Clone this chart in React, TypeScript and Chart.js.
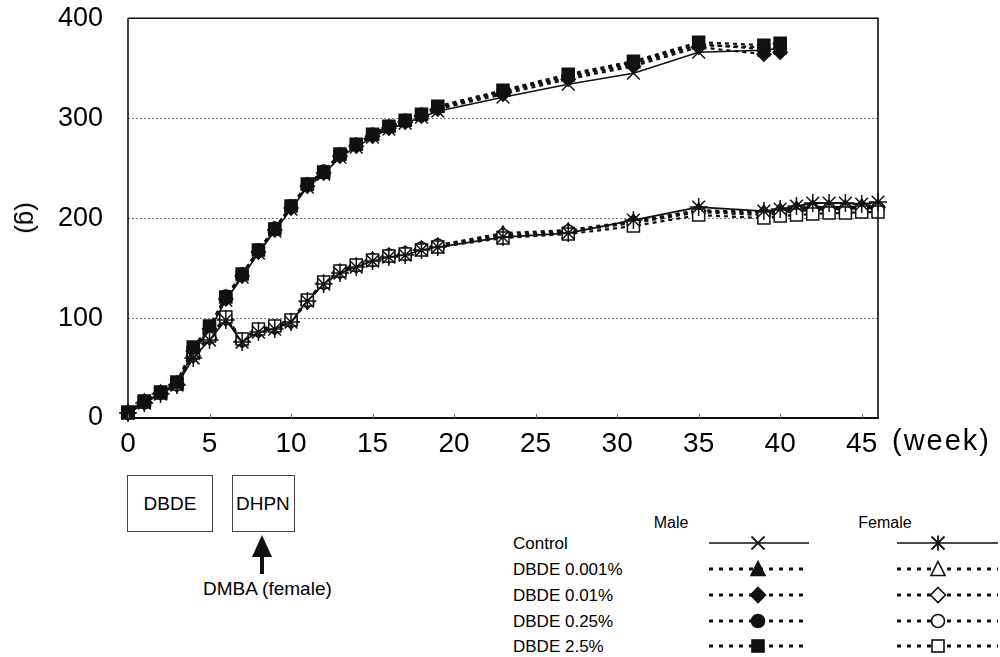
import React, { useEffect, useRef } from "react";
import { Chart, registerables } from "chart.js";

Chart.register(...registerables);

// ---------- data ----------
const maleWeeks = [0, 1, 2, 3, 4, 5, 6, 7, 8, 9, 10, 11, 12, 13, 14, 15, 16, 17, 18, 19, 23, 27, 31, 35, 39, 40];
const femaleWeeks = [0, 1, 2, 3, 4, 5, 6, 7, 8, 9, 10, 11, 12, 13, 14, 15, 16, 17, 18, 19, 23, 27, 31, 35, 39, 40, 41, 42, 43, 44, 45, 46];

const maleControl = [5, 16, 25, 34, 66, 88, 118, 141, 165, 187, 209, 231, 244, 261, 271, 281, 289, 295, 301, 307, 321, 334, 345, 366, 368, 370];
const male0001 = [6, 17, 26, 35, 69, 90, 121, 143, 167, 189, 211, 233, 246, 263, 273, 283, 291, 297, 303, 310, 326, 341, 354, 373, 371, 373];
const male001 = [5, 16, 25, 34, 67, 89, 119, 142, 166, 188, 210, 232, 245, 262, 272, 282, 290, 296, 302, 309, 324, 339, 352, 371, 364, 366];
const male025 = [6, 17, 26, 35, 70, 91, 122, 144, 168, 190, 212, 234, 247, 264, 274, 284, 292, 298, 304, 311, 327, 342, 356, 374, 369, 370];
const male25 = [6, 17, 26, 36, 71, 92, 121, 144, 168, 189, 212, 234, 246, 264, 274, 284, 292, 298, 304, 312, 328, 344, 357, 376, 373, 375];

const femaleControl = [5, 15, 24, 33, 60, 78, 98, 76, 86, 89, 96, 117, 134, 145, 151, 157, 161, 163, 168, 171, 181, 185, 198, 211, 207, 209, 212, 215, 215, 215, 214, 216];
const female0001 = [5, 16, 25, 34, 63, 81, 100, 78, 88, 91, 97, 117, 136, 147, 153, 159, 163, 165, 170, 173, 185, 188, 197, 208, 206, 208, 210, 211, 211, 211, 212, 212];
const female001 = [5, 15, 25, 33, 62, 80, 99, 77, 87, 90, 96, 116, 135, 146, 152, 158, 162, 164, 169, 172, 182, 186, 196, 207, 205, 207, 209, 210, 210, 210, 211, 211];
const female025 = [5, 16, 25, 34, 64, 82, 100, 78, 88, 91, 97, 117, 135, 147, 153, 158, 163, 165, 170, 173, 183, 187, 195, 206, 203, 205, 207, 208, 209, 209, 210, 210];
const female25 = [5, 16, 25, 34, 65, 82, 101, 79, 89, 92, 98, 118, 136, 147, 153, 158, 162, 164, 168, 171, 180, 184, 192, 203, 200, 202, 203, 204, 205, 205, 206, 206];

const groupLabels = ["Control", "DBDE 0.001%", "DBDE 0.01%", "DBDE 0.25%", "DBDE 2.5%"];
const xTickValues = [0, 5, 10, 15, 20, 25, 30, 35, 40, 45];
const yTickValues = [0, 100, 200, 300, 400];
const xMax = 46;
const yMax = 400;

// ---------- styles ----------
const maleStyles = [
  { shape: "crossRot", filled: false, dashed: false },
  { shape: "triangle", filled: true, dashed: true },
  { shape: "rectRot", filled: true, dashed: true },
  { shape: "circle", filled: true, dashed: true },
  { shape: "rect", filled: true, dashed: true },
];
const femaleStyles = [
  { shape: "star", filled: false, dashed: false },
  { shape: "triangle", filled: false, dashed: true },
  { shape: "rectRot", filled: false, dashed: true },
  { shape: "circle", filled: false, dashed: true },
  { shape: "rect", filled: false, dashed: true },
];
const shapeRadius: Record<string, number> = { crossRot: 9, star: 9, triangle: 7, rectRot: 7, circle: 6, rect: 8.5 };
// drawing order (lower is on top): control, 2.5%, 0.25%, 0.01%, 0.001%
const drawOrder = [0, 4, 3, 2, 1];

const maleSeries = [maleControl, male0001, male001, male025, male25];
const femaleSeries = [femaleControl, female0001, female001, female025, female25];

function makeDataset(label: string, weeks: number[], vals: number[], st: any, order: number) {
  return {
    label,
    order,
    data: weeks.map((w, i) => ({ x: w, y: vals[i] })),
    borderColor: "#111",
    borderWidth: st.dashed ? 2.2 : 1.6,
    borderDash: st.dashed ? [4, 4] : [],
    pointStyle: st.shape,
    pointRadius: shapeRadius[st.shape],
    pointBorderColor: "#111",
    pointBorderWidth: 1.5,
    pointBackgroundColor: st.filled ? "#111" : "#fff",
    tension: 0,
    fill: false,
    clip: false as any,
  };
}

const framePlugin = {
  id: "frame",
  beforeDatasetsDraw(chart: any) {
    const { ctx, chartArea, scales } = chart;
    const { left, right } = chartArea;
    ctx.save();
    ctx.strokeStyle = "#777";
    ctx.lineWidth = 1;
    ctx.setLineDash([2, 2]);
    yTickValues
      .filter((v) => v > 0 && v < yMax)
      .forEach((v) => {
        const py = Math.round(scales.y.getPixelForValue(v)) + 0.5;
        ctx.beginPath();
        ctx.moveTo(left, py);
        ctx.lineTo(right, py);
        ctx.stroke();
      });
    ctx.restore();
  },
  afterDatasetsDraw(chart: any) {
    const { ctx, chartArea, scales } = chart;
    const { left, right, top, bottom } = chartArea;
    ctx.save();
    ctx.setLineDash([]);
    ctx.strokeStyle = "#111";
    ctx.lineWidth = 1.6;
    ctx.beginPath();
    ctx.moveTo(left, top);
    ctx.lineTo(right, top);
    ctx.lineTo(right, bottom);
    ctx.moveTo(left, top);
    ctx.lineTo(left, bottom);
    ctx.stroke();
    ctx.lineWidth = 2.2;
    ctx.beginPath();
    ctx.moveTo(left - 1, bottom);
    ctx.lineTo(right + 1, bottom);
    ctx.stroke();
    ctx.lineWidth = 1;
    ctx.strokeStyle = "#666";
    xTickValues.forEach((v) => {
      const px = Math.round(scales.x.getPixelForValue(v)) + 0.5;
      ctx.beginPath();
      ctx.moveTo(px, bottom);
      ctx.lineTo(px, bottom - 4);
      ctx.stroke();
    });
    ctx.restore();
  },
};

function Marker({ shape, filled, cx, cy }: { shape: string; filled: boolean; cx: number; cy: number }) {
  const fill = filled ? "#111" : "#fff";
  const s = 6.5;
  const common = { stroke: "#111", strokeWidth: 1.6, fill };
  if (shape === "crossRot") {
    return (
      <g stroke="#111" strokeWidth={1.8}>
        <line x1={cx - s} y1={cy - s} x2={cx + s} y2={cy + s} />
        <line x1={cx - s} y1={cy + s} x2={cx + s} y2={cy - s} />
      </g>
    );
  }
  if (shape === "star") {
    return (
      <g stroke="#111" strokeWidth={1.8}>
        <line x1={cx - s} y1={cy - s} x2={cx + s} y2={cy + s} />
        <line x1={cx - s} y1={cy + s} x2={cx + s} y2={cy - s} />
        <line x1={cx} y1={cy - s - 1} x2={cx} y2={cy + s + 1} />
      </g>
    );
  }
  if (shape === "triangle") {
    return <polygon points={`${cx},${cy - s - 1} ${cx + s + 0.5},${cy + s} ${cx - s - 0.5},${cy + s}`} {...common} />;
  }
  if (shape === "rectRot") {
    return <polygon points={`${cx},${cy - s - 1} ${cx + s + 1},${cy} ${cx},${cy + s + 1} ${cx - s - 1},${cy}`} {...common} />;
  }
  if (shape === "circle") {
    return <circle cx={cx} cy={cy} r={s} {...common} />;
  }
  return <rect x={cx - s + 0.5} y={cy - s + 0.5} width={2 * s - 1} height={2 * s - 1} {...common} />;
}

function Sample({ st, x1, x2, cx, cy }: any) {
  return (
    <g>
      <line
        x1={x1}
        y1={cy}
        x2={x2}
        y2={cy}
        stroke="#111"
        strokeWidth={st.dashed ? 3 : 1.6}
        strokeDasharray={st.dashed ? "4 6" : undefined}
      />
      <Marker shape={st.shape} filled={st.filled} cx={cx} cy={cy} />
    </g>
  );
}

const CANVAS_TOP = -15;
const CANVAS_H = 485;

export default function App() {
  const canvasRef = useRef<HTMLCanvasElement | null>(null);

  useEffect(() => {
    if (!canvasRef.current) return;
    const datasets: any[] = [];
    maleSeries.forEach((vals, i) => datasets.push(makeDataset("Male " + groupLabels[i], maleWeeks, vals, maleStyles[i], drawOrder[i])));
    femaleSeries.forEach((vals, i) => datasets.push(makeDataset("Female " + groupLabels[i], femaleWeeks, vals, femaleStyles[i], drawOrder[i])));

    const chart = new Chart(canvasRef.current, {
      type: "line",
      data: { datasets },
      plugins: [framePlugin],
      options: {
        animation: false,
        responsive: false,
        maintainAspectRatio: false,
        layout: { padding: { left: 0, right: 122, top: 3, bottom: 0 } },
        plugins: { legend: { display: false }, tooltip: { enabled: false } },
        scales: {
          x: {
            type: "linear",
            min: 0,
            max: xMax,
            grid: { display: false },
            border: { display: false },
            afterBuildTicks: (scale: any) => {
              scale.ticks = xTickValues.map((v) => ({ value: v }));
            },
            afterFit: (scale: any) => {
              scale.height = 52;
            },
            ticks: {
              autoSkip: false,
              maxRotation: 0,
              padding: 1,
              color: "#000",
              font: { family: "'Liberation Sans Narrow', 'Arial Narrow', 'Liberation Sans', Arial, sans-serif", size: 28 },
            },
          },
          y: {
            type: "linear",
            min: 0,
            max: yMax,
            grid: { display: false },
            border: { display: false },
            afterBuildTicks: (scale: any) => {
              scale.ticks = yTickValues.map((v) => ({ value: v }));
            },
            afterFit: (scale: any) => {
              scale.width = 128;
            },
            ticks: {
              padding: 17,
              color: "#000",
              font: { family: "'Liberation Sans', Arial, sans-serif", size: 27 },
            },
          },
        },
      },
    });
    return () => chart.destroy();
  }, []);

  const font = "'Liberation Sans', Arial, sans-serif";
  const rowY = [543, 569, 595, 621, 646];

  return (
    <div style={{ position: "absolute", left: 0, top: 0, width: 1000, height: 657, background: "#fff", fontFamily: font, color: "#000", overflow: "hidden" }}>
      <canvas
        ref={canvasRef}
        width={1000}
        height={CANVAS_H}
        style={{ position: "absolute", left: 0, top: CANVAS_TOP, width: 1000, height: CANVAS_H }}
      />

      {/* y axis title */}
      <div
        style={{
          position: "absolute",
          left: 28,
          top: 218,
          transform: "translate(-50%, -50%) rotate(90deg)",
          fontSize: 26,
          whiteSpace: "nowrap",
          lineHeight: 1,
        }}
      >
        (g)
      </div>

      {/* x axis unit */}
      <div style={{ position: "absolute", left: 892, top: 440, transform: "translateY(-50%)", fontSize: 29, letterSpacing: 2, lineHeight: 1, whiteSpace: "nowrap" }}>
        (week)
      </div>

      {/* treatment boxes */}
      <div style={{ position: "absolute", left: 127, top: 475, width: 86, height: 57, boxSizing: "border-box", border: "1px solid #444", display: "flex", alignItems: "center", justifyContent: "center", fontSize: 19 }}>
        DBDE
      </div>
      <div style={{ position: "absolute", left: 232, top: 475, width: 63, height: 57, boxSizing: "border-box", border: "1px solid #444", display: "flex", alignItems: "center", justifyContent: "flex-start", paddingLeft: 3, fontSize: 19 }}>
        DHPN
      </div>
      <div style={{ position: "absolute", left: 203, top: 588, transform: "translateY(-50%)", fontSize: 19, lineHeight: 1, whiteSpace: "nowrap" }}>
        DMBA (female)
      </div>

      {/* legend texts */}
      <div style={{ position: "absolute", left: 671, top: 523, transform: "translate(-50%, -50%)", fontSize: 16, lineHeight: 1 }}>Male</div>
      <div style={{ position: "absolute", left: 885, top: 523, transform: "translate(-50%, -50%)", fontSize: 16, lineHeight: 1 }}>Female</div>
      {groupLabels.map((l, i) => (
        <div key={l} style={{ position: "absolute", left: 513, top: rowY[i], transform: "translateY(-50%)", fontSize: 17, lineHeight: 1, whiteSpace: "nowrap" }}>
          {l}
        </div>
      ))}

      <svg width={1000} height={657} style={{ position: "absolute", left: 0, top: 0, pointerEvents: "none" }}>
        {/* arrow */}
        <line x1={262} y1={574} x2={262} y2={552} stroke="#111" strokeWidth={4} />
        <polygon points="262,535 272,557 252,557" fill="#111" />
        {maleStyles.map((st, i) => (
          <Sample key={"m" + i} st={st} x1={709} x2={809} cx={758} cy={rowY[i]} />
        ))}
        {femaleStyles.map((st, i) => (
          <Sample key={"f" + i} st={st} x1={897} x2={998} cx={938} cy={rowY[i]} />
        ))}
      </svg>
    </div>
  );
}
